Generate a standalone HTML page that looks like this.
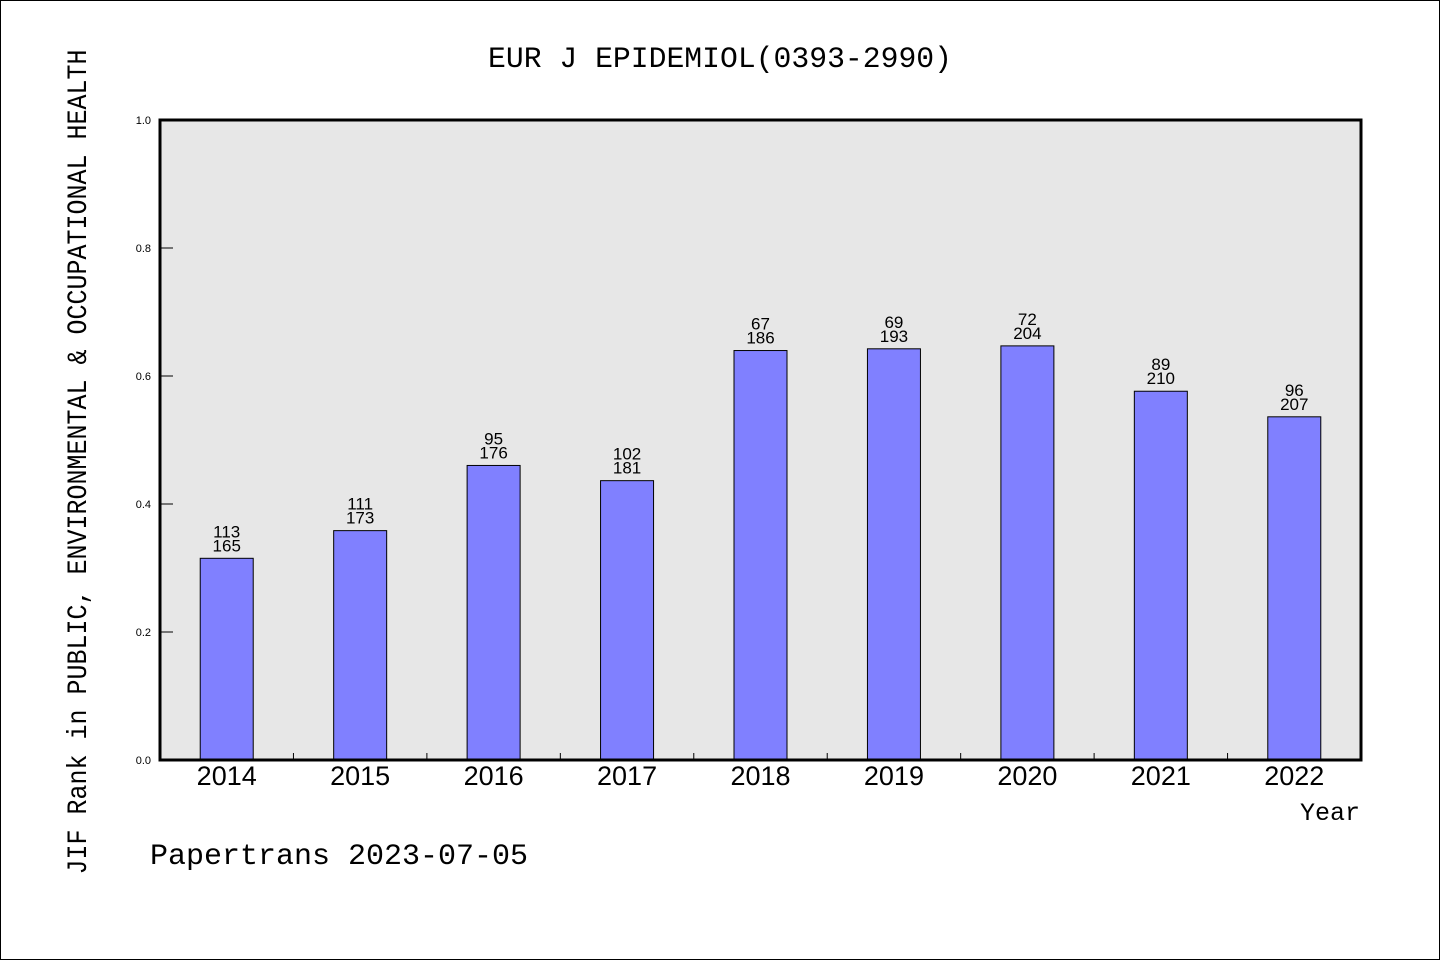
<!DOCTYPE html>
<html><head><meta charset="utf-8"><style>
html,body{margin:0;padding:0;background:#fff}
svg{display:block}
text{font-family:"Liberation Mono","Noto Sans CJK SC",monospace;fill:#000}
.sans{font-family:"Liberation Sans","Noto Sans CJK SC",sans-serif}
</style></head><body>
<svg id="chart" width="1440" height="960">
<rect x="0.5" y="0.5" width="1439" height="959" fill="#fff" stroke="#000" stroke-width="1"/>
<text x="720" y="67" font-size="30" text-anchor="middle" textLength="464" lengthAdjust="spacingAndGlyphs">EUR J EPIDEMIOL(0393-2990)</text>
<rect x="160" y="120" width="1201" height="640" fill="#e7e7e7"/>
<g id="marks"></g>
<rect x="160" y="120" width="1201" height="640" fill="none" stroke="#000" stroke-width="3"/>
<text transform="translate(86,462) rotate(-90)" font-size="28" text-anchor="middle" textLength="825" lengthAdjust="spacingAndGlyphs">JIF Rank in PUBLIC, ENVIRONMENTAL &amp; OCCUPATIONAL HEALTH</text>
<text x="1360" y="820" font-size="25" text-anchor="end">Year</text>
<text x="150" y="864" font-size="30">Papertrans 2023-07-05</text>
</svg>
<script>
const years = ['2014','2015','2016','2017','2018','2019','2020','2021','2022'];
const ranks = [113,111,95,102,67,69,72,89,96];
const totals = [165,173,176,181,186,193,204,210,207];
const yTicks = [0,0.2,0.4,0.6,0.8,1.0];
const yTickLabels = ['0.0','0.2','0.4','0.6','0.8','1.0'];

const NS='http://www.w3.org/2000/svg';
const g=document.getElementById('marks');
const X0=160,X1=1361,Y0=760,Y1=120;
const step=(X1-X0)/years.length;
const xc=i=>X0+step*(i+0.5);
const ys=v=>Y0-(Y0-Y1)*v;
function mk(tag,attrs){const e=document.createElementNS(NS,tag);for(const k in attrs)e.setAttribute(k,attrs[k]);g.appendChild(e);return e;}

yTicks.forEach((v,i)=>{
  const l=mk('line',{x1:160,x2:173,y1:ys(v),y2:ys(v),stroke:'#000','stroke-width':1});
  
  
  const t=mk('text',{x:151,y:ys(v)+4,'font-size':11,'text-anchor':'end','class':'sans'});
  t.textContent=yTickLabels[i];
  
  
});
for(let i=1;i<years.length;i++){
  const x=X0+step*i;
  const l=mk('line',{x1:x,x2:x,y1:Y0,y2:Y0-7,stroke:'#000','stroke-width':1});
  
  
}
years.forEach((y,i)=>{
  const v=(totals[i]-ranks[i])/totals[i];
  const top=ys(v);
  const b=mk('rect',{x:xc(i)-26.5,y:top,width:53,height:Y0-top,fill:'#8080ff',stroke:'#000','stroke-width':1});
  
  
  const t1=mk('text',{x:xc(i),y:top-21,'font-size':17,'text-anchor':'middle','class':'sans'});
  t1.textContent=ranks[i];
  
  
  const t2=mk('text',{x:xc(i),y:top-7,'font-size':17,'text-anchor':'middle','class':'sans'});
  t2.textContent=totals[i];
  
  
  const xl=mk('text',{x:xc(i),y:785,'font-size':27,'text-anchor':'middle','class':'sans'});
  xl.textContent=y;
  
  
});
</script>
</body></html>
